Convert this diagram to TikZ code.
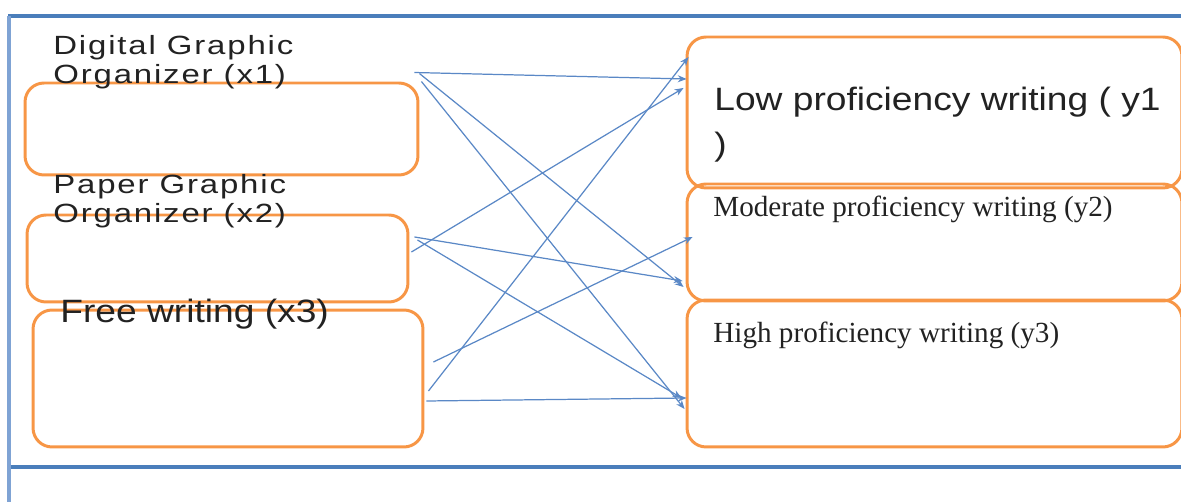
\documentclass[tikz,border=0pt]{standalone}
\usepackage{fontspec}
\setmainfont[FakeStretch=1.15]{Liberation Sans}
\newfontfamily\labelfont[FakeStretch=1.25,LetterSpace=7]{Liberation Sans}
\newfontfamily\timesfont{Liberation Serif}
\usetikzlibrary{arrows.meta}
\definecolor{framebl}{HTML}{4A7EBB}
\definecolor{sidebl}{HTML}{7FA3D4}
\definecolor{boxor}{HTML}{F79646}
\definecolor{arrbl}{HTML}{5A88C6}
\definecolor{inkgr}{HTML}{222222}

\begin{document}
\begin{tikzpicture}[x=0.02cm,y=-0.02cm,
		box/.style={draw=boxor, line width=1.7pt, rounded corners=0.38cm},
		lbl/.style={inner sep=0pt, text=inkgr, anchor=base west, align=left},
		link/.style={arrbl, line width=0.7pt, -{Stealth[length=5pt,width=4pt]}}]

	\useasboundingbox (0,0) rectangle (1181,502);

	% frame lines
	\draw[framebl, line width=1.9pt] (8,16) -- (1181,16);
	\draw[framebl, line width=1.9pt] (8,467) -- (1181,467);
	\draw[sidebl, line width=1.9pt] (9,16) -- (9,502);

	\begin{scope}
		\node[box, minimum width=7.86cm, minimum height=1.84cm] (dgo) at (221.5,129) {};
		\node[box, minimum width=7.62cm, minimum height=1.74cm] (pgo) at (217.5,258.5) {};
		\node[box, minimum width=7.8cm, minimum height=2.74cm] (fwr) at (228,378.5) {};

		% base west sits on the last line
		\node[lbl, font=\labelfont\fontsize{15}{17}\selectfont] (dgolbl) at (53,84) {Digital Graphic\\Organizer (x1)};
		\node[lbl, font=\labelfont\fontsize{15}{17}\selectfont] (pgolbl) at (53,223) {Paper Graphic\\Organizer (x2)};
		\node[lbl, font=\fontsize{18.4}{22}\selectfont] (fwrlbl) at (60,323) {Free writing (x3)};
	\end{scope}

	\begin{scope}
		\node[box, minimum width=9.9cm, minimum height=3.02cm] (lpw) at (934.5,112.5) {};
		\node[box, minimum width=9.9cm, minimum height=2.34cm] (mpw) at (934.5,242.5) {};
		\node[box, minimum width=9.9cm, minimum height=2.94cm] (hpw) at (934.5,373.5) {};

		\node[lbl, font=\fontsize{18.4}{26}\selectfont] (lpwlbl) at (714,156) {Low proficiency writing ( y1\\)};
		\node[lbl, font=\timesfont\fontsize{16.6}{20}\selectfont] (mpwlbl) at (713,217) {Moderate proficiency writing (y2)};
		\node[lbl, font=\timesfont\fontsize{16.6}{20}\selectfont] (hpwlbl) at (713,343) {High proficiency writing (y3)};
	\end{scope}

	% loose ends of the links
	\coordinate (d1) at ([shift={(-5,-9)}]dgo.north east);
	\coordinate (d2) at ([shift={(0,-8)}]dgo.north east);
	\coordinate (d3) at ([shift={(2,0)}]dgo.north east);
	\coordinate (p1) at ([shift={(2,-6.5)}]pgo.east);
	\coordinate (p2) at ([shift={(5,-21.5)}]pgo.east);
	\coordinate (p3) at ([shift={(8,-18.5)}]pgo.east);
	\coordinate (f1) at ([shift={(4,12.5)}]fwr.east);
	\coordinate (f2) at ([shift={(9,-16.5)}]fwr.east);
	\coordinate (f3) at ([shift={(2,22.5)}]fwr.east);

	\coordinate (l1) at ([shift={(1,-33.5)}]lpw.west);
	\coordinate (l2) at ([shift={(-2,-24.5)}]lpw.west);
	\coordinate (l3) at ([shift={(3,-55.5)}]lpw.west);
	\coordinate (m1) at ([shift={(-2,44.5)}]mpw.west);
	\coordinate (m2) at ([shift={(-3,38.5)}]mpw.west);
	\coordinate (m3) at ([shift={(7,-5.5)}]mpw.west);
	\coordinate (h1) at ([shift={(-1,35.5)}]hpw.west);
	\coordinate (h2) at ([shift={(-4,24.5)}]hpw.west);
	\coordinate (h3) at ([shift={(1,24.5)}]hpw.west);

	\foreach \from/\to in {d1/l1, d2/m1, d3/h1, p1/l2, p2/m2, p3/h2, f1/l3, f2/m3, f3/h3}
		\draw[link] (\from) -- (\to);

\end{tikzpicture}
\end{document}
